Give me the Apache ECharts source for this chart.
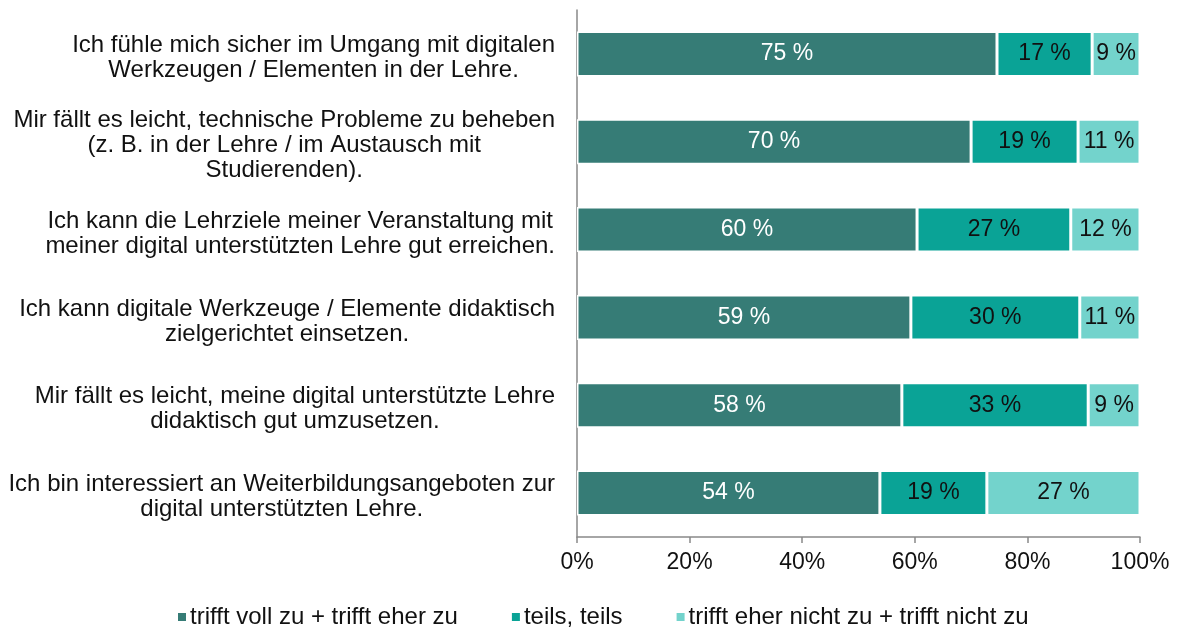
<!DOCTYPE html>
<html>
<head>
<meta charset="utf-8">
<script src="https://cdn.jsdelivr.net/npm/echarts@6/dist/echarts.min.js"></script>
<style>
  html, body { margin: 0; padding: 0; background: #fff; }
  #chart { width: 1179px; height: 628px; }
</style>
</head>
<body>
<div id="chart"></div>
<script>
// statements, top to bottom
const categories = [
  "Ich fühle mich sicher im Umgang mit digitalen\nWerkzeugen / Elementen in der Lehre.",
  "Mir fällt es leicht, technische Probleme zu beheben\n(z. B. in der Lehre / im Austausch mit\nStudierenden).",
  "Ich kann die Lehrziele meiner Veranstaltung mit\nmeiner digital unterstützten Lehre gut erreichen.",
  "Ich kann digitale Werkzeuge / Elemente didaktisch\nzielgerichtet einsetzen.",
  "Mir fällt es leicht, meine digital unterstützte Lehre\ndidaktisch gut umzusetzen.",
  "Ich bin interessiert an Weiterbildungsangeboten zur\ndigital unterstützten Lehre."
];
const seriesNames = [
  "trifft voll zu + trifft eher zu",
  "teils, teils",
  "trifft eher nicht zu + trifft nicht zu"
];
const agree = [74.6, 70.0, 60.4, 59.3, 57.7, 53.8];
const partly = [16.9, 19.0, 27.3, 30.0, 33.1, 19.0];
const disagree = [8.5, 11.0, 12.3, 10.7, 9.2, 27.2];
const xTicks = [0, 20, 40, 60, 80, 100];

const colors = ["#367c76", "#0aa396", "#73d3cc"];
const labelColors = ["#ffffff", "#111111", "#111111"];
const font = "Liberation Sans, Arial, sans-serif";

const chart = echarts.init(document.getElementById("chart"));

function makeSeries(name, data, i) {
  return {
    name: name,
    type: "bar",
    stack: "total",
    barWidth: 45,
    data: data,
    itemStyle: { color: colors[i], borderColor: "#fff", borderWidth: 1.5 },
    label: {
      show: true,
      position: "inside",
      color: labelColors[i],
      fontFamily: font,
      fontSize: 23,
      formatter: p => Math.round(p.value) + " %"
    }
  };
}

chart.setOption({
  animation: false,
  textStyle: { fontFamily: font },
  grid: { left: 577, right: 39, top: 10, bottom: 91, containLabel: false },
  legend: {
    top: 600,
    left: 171,
    itemWidth: 10,
    itemHeight: 10,
    itemGap: 52,
    icon: "rect",
    textStyle: { fontSize: 24, color: "#111", padding: [0, 0, 0, -2] },
    data: seriesNames
  },
  xAxis: {
    type: "value",
    min: xTicks[0],
    max: xTicks[xTicks.length - 1],
    interval: 20,
    splitLine: { show: false },
    axisLine: { show: true, lineStyle: { color: "#898989", width: 1.5 } },
    axisTick: { show: true, length: 6, lineStyle: { color: "#898989", width: 1.5 } },
    axisLabel: { formatter: "{value}%", fontSize: 23, color: "#111", margin: 14 }
  },
  yAxis: {
    type: "category",
    inverse: true,
    data: categories,
    axisLine: { show: true, lineStyle: { color: "#898989", width: 1.5 } },
    axisTick: { show: false },
    axisLabel: {
      align: "right",
      margin: 22,
      padding: [8, 0, 0, 0],
      // centre each line inside the right-anchored block
      formatter: v => v.split("\n").map(l => "{c|" + l + "}").join("\n"),
      rich: {
        c: { fontSize: 24, color: "#111", align: "center", lineHeight: 25, fontFamily: font }
      }
    }
  },
  series: [
    makeSeries(seriesNames[0], agree, 0),
    makeSeries(seriesNames[1], partly, 1),
    makeSeries(seriesNames[2], disagree, 2)
  ]
});
</script>
</body>
</html>
